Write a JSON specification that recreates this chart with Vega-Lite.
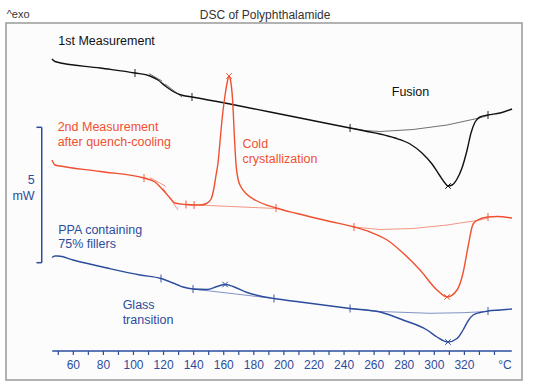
{
  "$schema": "https://vega.github.io/schema/vega-lite/v6.json",
  "width": 516,
  "height": 357,
  "autosize": {"type": "none"},
  "padding": {"left": 6, "top": 23, "right": 12, "bottom": 9},
  "background": "#ffffff",
  "config": {
    "view": {"stroke": "#999999", "strokeWidth": 1.5, "fill": "#fcfcfd"},
    "text": {"font": "Liberation Sans"}
  },
  "datasets": {
    "curves": [
      {"s":"m1","T":45.8,"hf":321},{"s":"m1","T":47.8,"hf":318.5},{"s":"m1","T":77.8,"hf":312},{"s":"m1","T":101.0,"hf":307},{"s":"m1","T":111.0,"hf":304},{"s":"m1","T":116.3,"hf":300},{"s":"m1","T":121.6,"hf":293.5},{"s":"m1","T":127.6,"hf":287.5},{"s":"m1","T":132.9,"hf":284.5},{"s":"m1","T":138.9,"hf":283},{"s":"m1","T":164.2,"hf":276},{"s":"m1","T":190.8,"hf":268},{"s":"m1","T":217.4,"hf":260},{"s":"m1","T":244.0,"hf":252},{"s":"m1","T":253.9,"hf":249},{"s":"m1","T":263.9,"hf":246},{"s":"m1","T":273.9,"hf":242},{"s":"m1","T":283.9,"hf":236},{"s":"m1","T":291.8,"hf":227},{"s":"m1","T":298.5,"hf":216},{"s":"m1","T":303.8,"hf":204},{"s":"m1","T":307.1,"hf":197},{"s":"m1","T":309.1,"hf":194},{"s":"m1","T":311.8,"hf":195},{"s":"m1","T":315.1,"hf":201},{"s":"m1","T":318.4,"hf":212},{"s":"m1","T":321.8,"hf":230},{"s":"m1","T":324.4,"hf":247},{"s":"m1","T":327.1,"hf":258},{"s":"m1","T":330.4,"hf":263},{"s":"m1","T":335.7,"hf":265},{"s":"m1","T":343.7,"hf":267},{"s":"m1","T":351.7,"hf":271},
      {"s":"m2","T":45.8,"hf":220},{"s":"m2","T":47.8,"hf":215},{"s":"m2","T":51.2,"hf":214},{"s":"m2","T":77.8,"hf":208.5},{"s":"m2","T":107.0,"hf":202},{"s":"m2","T":114.3,"hf":198},{"s":"m2","T":119.6,"hf":190},{"s":"m2","T":124.3,"hf":182},{"s":"m2","T":127.6,"hf":177},{"s":"m2","T":134.9,"hf":175.5},{"s":"m2","T":140.3,"hf":175},{"s":"m2","T":144.2,"hf":175},{"s":"m2","T":148.6,"hf":176.5},{"s":"m2","T":151.6,"hf":181},{"s":"m2","T":153.5,"hf":192},{"s":"m2","T":154.9,"hf":205},{"s":"m2","T":156.2,"hf":217},{"s":"m2","T":157.5,"hf":238},{"s":"m2","T":159.2,"hf":265},{"s":"m2","T":160.9,"hf":285},{"s":"m2","T":162.5,"hf":299},{"s":"m2","T":163.5,"hf":304},{"s":"m2","T":164.5,"hf":300},{"s":"m2","T":165.9,"hf":280},{"s":"m2","T":167.2,"hf":240},{"s":"m2","T":168.2,"hf":215},{"s":"m2","T":169.5,"hf":201},{"s":"m2","T":171.5,"hf":193},{"s":"m2","T":174.8,"hf":186.5},{"s":"m2","T":181.5,"hf":179.5},{"s":"m2","T":194.8,"hf":172},{"s":"m2","T":208.7,"hf":166.5},{"s":"m2","T":230.7,"hf":158.5},{"s":"m2","T":246.6,"hf":153},{"s":"m2","T":257.3,"hf":148},{"s":"m2","T":268.6,"hf":140},{"s":"m2","T":279.2,"hf":127},{"s":"m2","T":290.5,"hf":110},{"s":"m2","T":301.8,"hf":90},{"s":"m2","T":308.5,"hf":83},{"s":"m2","T":315.1,"hf":90},{"s":"m2","T":319.1,"hf":107},{"s":"m2","T":322.4,"hf":133},{"s":"m2","T":325.8,"hf":156},{"s":"m2","T":331.1,"hf":161.5},{"s":"m2","T":335.7,"hf":163},{"s":"m2","T":341.7,"hf":163.5},{"s":"m2","T":351.7,"hf":162},
      {"s":"ppa","T":45.8,"hf":122.5},{"s":"ppa","T":47.8,"hf":124},{"s":"ppa","T":49.8,"hf":124},{"s":"ppa","T":59.8,"hf":120},{"s":"ppa","T":82.4,"hf":112},{"s":"ppa","T":104.3,"hf":105},{"s":"ppa","T":118.3,"hf":101.5},{"s":"ppa","T":126.3,"hf":97},{"s":"ppa","T":132.9,"hf":93},{"s":"ppa","T":139.6,"hf":91},{"s":"ppa","T":148.9,"hf":90.5},{"s":"ppa","T":155.5,"hf":93.5},{"s":"ppa","T":160.9,"hf":95.5},{"s":"ppa","T":166.2,"hf":93.5},{"s":"ppa","T":175.5,"hf":87.5},{"s":"ppa","T":184.1,"hf":84},{"s":"ppa","T":193.4,"hf":81.5},{"s":"ppa","T":210.7,"hf":78},{"s":"ppa","T":244.0,"hf":71.5},{"s":"ppa","T":263.9,"hf":68},{"s":"ppa","T":279.2,"hf":60},{"s":"ppa","T":295.2,"hf":50},{"s":"ppa","T":301.8,"hf":43},{"s":"ppa","T":309.1,"hf":38},{"s":"ppa","T":315.1,"hf":41.5},{"s":"ppa","T":319.1,"hf":50},{"s":"ppa","T":322.4,"hf":59},{"s":"ppa","T":325.8,"hf":65},{"s":"ppa","T":330.4,"hf":67.5},{"s":"ppa","T":335.7,"hf":69},{"s":"ppa","T":343.7,"hf":70},{"s":"ppa","T":351.7,"hf":71}
    ],
    "thin": [
      {"s":"m1","k":"b1","T":244.0,"hf":252},{"s":"m1","k":"b1","T":253.9,"hf":249.5},{"s":"m1","k":"b1","T":263.9,"hf":248.5},{"s":"m1","k":"b1","T":285.9,"hf":250.5},{"s":"m1","k":"b1","T":308.5,"hf":255},{"s":"m1","k":"b1","T":328.4,"hf":261.5},{"s":"m1","k":"b1","T":335.7,"hf":264.5},
      {"s":"m1","k":"t1a","T":110.3,"hf":306.5},{"s":"m1","k":"t1a","T":119.0,"hf":299},
      {"s":"m1","k":"t1b","T":121.0,"hf":296},{"s":"m1","k":"t1b","T":132.3,"hf":283},
      {"s":"m2","k":"b2a","T":134.9,"hf":175.5},{"s":"m2","k":"b2a","T":194.8,"hf":171.5},
      {"s":"m2","k":"b2b","T":246.6,"hf":153},{"s":"m2","k":"b2b","T":263.9,"hf":150.5},{"s":"m2","k":"b2b","T":285.9,"hf":151.5},{"s":"m2","k":"b2b","T":308.5,"hf":155},{"s":"m2","k":"b2b","T":330.4,"hf":160},{"s":"m2","k":"b2b","T":335.7,"hf":162},
      {"s":"m2","k":"t2a","T":111.0,"hf":202.5},{"s":"m2","k":"t2a","T":121.6,"hf":193.5},
      {"s":"m2","k":"t2b","T":119.6,"hf":192},{"s":"m2","k":"t2b","T":129.6,"hf":170},
      {"s":"ppa","k":"b3a","T":139.6,"hf":91},{"s":"ppa","k":"b3a","T":193.4,"hf":81.5},
      {"s":"ppa","k":"b3b","T":244.0,"hf":71.5},{"s":"ppa","k":"b3b","T":263.9,"hf":68.5},{"s":"ppa","k":"b3b","T":297.2,"hf":66.7},{"s":"ppa","k":"b3b","T":319.1,"hf":67.3},{"s":"ppa","k":"b3b","T":335.7,"hf":68.5},
      {"s":"ppa","k":"t3a","T":123.0,"hf":99},{"s":"ppa","k":"t3a","T":131.0,"hf":94.5}
    ],
    "limits": [
      {"s":"m1","T":101.0,"hf":307},{"s":"m1","T":138.9,"hf":283},{"s":"m1","T":244.0,"hf":252},{"s":"m1","T":335.7,"hf":265},
      {"s":"m2","T":107.0,"hf":202},{"s":"m2","T":134.9,"hf":175.5},{"s":"m2","T":140.3,"hf":175},{"s":"m2","T":194.8,"hf":172},{"s":"m2","T":246.6,"hf":153},{"s":"m2","T":335.7,"hf":163},
      {"s":"ppa","T":118.3,"hf":101.5},{"s":"ppa","T":139.6,"hf":91},{"s":"ppa","T":193.4,"hf":81.5},{"s":"ppa","T":244.0,"hf":71.5},{"s":"ppa","T":335.7,"hf":69}
    ],
    "peaks": [
      {"s":"m1","T":309.1,"hf":194},
      {"s":"m2","T":163.5,"hf":304},{"s":"m2","T":308.5,"hf":83},
      {"s":"ppa","T":160.9,"hf":95.5},{"s":"ppa","T":309.1,"hf":38}
    ],
    "ticks": [
      {"T":50},{"T":60},{"T":70},{"T":80},{"T":90},{"T":100},{"T":110},{"T":120},{"T":130},{"T":140},{"T":150},{"T":160},{"T":170},{"T":180},{"T":190},{"T":200},{"T":210},{"T":220},{"T":230},{"T":240},{"T":250},{"T":260},{"T":270},{"T":280},{"T":290},{"T":300},{"T":310},{"T":320},{"T":330},{"T":340}
    ],
    "ticklabels": [
      {"T":60,"txt":"60"},{"T":80,"txt":"80"},{"T":100,"txt":"100"},{"T":120,"txt":"120"},{"T":140,"txt":"140"},{"T":160,"txt":"160"},{"T":180,"txt":"180"},{"T":200,"txt":"200"},{"T":220,"txt":"220"},{"T":240,"txt":"240"},{"T":260,"txt":"260"},{"T":280,"txt":"280"},{"T":300,"txt":"300"},{"T":320,"txt":"320"},{"T":347,"txt":"°C"}
    ],
    "notes": [
      {"s":"m1","T":50.0,"hf":339.3,"txt":"1st Measurement"},
      {"s":"m1","T":271.7,"hf":287.7,"txt":"Fusion"},
      {"s":"m2","T":49.6,"hf":253.3,"txt":"2nd Measurement"},
      {"s":"m2","T":49.6,"hf":237.7,"txt":"after quench-cooling"},
      {"s":"m2","T":172.4,"hf":236,"txt":"Cold"},
      {"s":"m2","T":172.4,"hf":220.7,"txt":"crystallization"},
      {"s":"ppa","T":50.0,"hf":150,"txt":"PPA containing"},
      {"s":"ppa","T":50.0,"hf":135.7,"txt":"75% fillers"},
      {"s":"ppa","T":92.8,"hf":75,"txt":"Glass"},
      {"s":"ppa","T":92.8,"hf":60,"txt":"transition"}
    ],
    "scalelabel": [
      {"T":34.3,"hf":200,"txt":"5"},
      {"T":34.3,"hf":184,"txt":"mW"}
    ],
    "scalebar": [
      {"T":39.0,"T2":39.0,"hf":117.3,"hf2":252.7},
      {"T":35.5,"T2":39.0,"hf":252.7,"hf2":252.7},
      {"T":35.5,"T2":39.0,"hf":117.3,"hf2":117.3}
    ]
  },
  "layer": [
    {
      "data": {"name": "thin"},
      "mark": {"type": "line", "strokeWidth": 0.8, "opacity": 0.75},
      "encoding": {
        "x": {"field": "T", "type": "quantitative", "scale": {"domain": [15.25, 358.3], "nice": false, "zero": false}, "axis": null},
        "y": {"field": "hf", "type": "quantitative", "scale": {"domain": [0, 357], "nice": false, "zero": false}, "axis": null},
        "color": {"field": "s", "type": "nominal", "scale": {"domain": ["m1", "m2", "ppa", "t"], "range": ["#111111", "#f0502f", "#2c4c9c", "#333333"]}, "legend": null},
        "detail": {"field": "k"}
      }
    },
    {
      "data": {"name": "curves"},
      "mark": {"type": "line", "strokeWidth": 1.4, "interpolate": "monotone"},
      "encoding": {
        "x": {"field": "T", "type": "quantitative"},
        "y": {"field": "hf", "type": "quantitative"},
        "color": {"field": "s", "type": "nominal", "legend": null}
      }
    },
    {
      "data": {"name": "limits"},
      "mark": {"type": "tick", "orient": "vertical", "size": 8, "thickness": 1.3},
      "encoding": {
        "x": {"field": "T", "type": "quantitative"},
        "y": {"field": "hf", "type": "quantitative"},
        "color": {"field": "s", "type": "nominal", "legend": null}
      }
    },
    {
      "data": {"name": "peaks"},
      "mark": {"type": "point", "shape": "M-1,-1L1,1M-1,1L1,-1", "filled": false, "size": 30, "strokeWidth": 1, "opacity": 1},
      "encoding": {
        "x": {"field": "T", "type": "quantitative"},
        "y": {"field": "hf", "type": "quantitative"},
        "color": {"field": "s", "type": "nominal", "legend": null}
      }
    },
    {
      "data": {"values": [{"T": 46, "T2": 351.5, "hf": 29}]},
      "mark": {"type": "rule", "color": "#2c4c9c", "strokeWidth": 1.5},
      "encoding": {
        "x": {"field": "T", "type": "quantitative"},
        "x2": {"field": "T2"},
        "y": {"field": "hf", "type": "quantitative"}
      }
    },
    {
      "data": {"name": "ticks"},
      "mark": {"type": "rule", "color": "#2c4c9c", "strokeWidth": 1.2},
      "encoding": {
        "x": {"field": "T", "type": "quantitative"},
        "y": {"datum": 29},
        "y2": {"datum": 25}
      }
    },
    {
      "data": {"name": "ticklabels"},
      "mark": {"type": "text", "fontSize": 12, "align": "center", "baseline": "middle", "color": "#2c4c9c"},
      "encoding": {
        "x": {"field": "T", "type": "quantitative"},
        "y": {"datum": 15},
        "text": {"field": "txt"}
      }
    },
    {
      "data": {"name": "notes"},
      "mark": {"type": "text", "fontSize": 12.5, "align": "left", "baseline": "middle"},
      "encoding": {
        "x": {"field": "T", "type": "quantitative"},
        "y": {"field": "hf", "type": "quantitative"},
        "text": {"field": "txt"},
        "color": {"field": "s", "type": "nominal", "legend": null}
      }
    },
    {
      "data": {"name": "scalelabel"},
      "mark": {"type": "text", "fontSize": 12.5, "align": "right", "baseline": "middle", "color": "#2c4c9c"},
      "encoding": {
        "x": {"field": "T", "type": "quantitative"},
        "y": {"field": "hf", "type": "quantitative"},
        "text": {"field": "txt"}
      }
    },
    {
      "data": {"name": "scalebar"},
      "mark": {"type": "rule", "color": "#2c4c9c", "strokeWidth": 1.5},
      "encoding": {
        "x": {"field": "T", "type": "quantitative"},
        "x2": {"field": "T2"},
        "y": {"field": "hf", "type": "quantitative"},
        "y2": {"field": "hf2"}
      }
    },
    {
      "data": {"values": [{"T": 187.5, "hf": 365, "txt": "DSC of Polyphthalamide"}]},
      "mark": {"type": "text", "fontSize": 12, "align": "center", "baseline": "middle", "color": "#333333"},
      "encoding": {
        "x": {"field": "T", "type": "quantitative"},
        "y": {"field": "hf", "type": "quantitative"},
        "text": {"field": "txt"}
      }
    },
    {
      "data": {"values": [{"T": 15.7, "hf": 365, "txt": "^exo"}]},
      "mark": {"type": "text", "fontSize": 11, "align": "left", "baseline": "middle", "color": "#333333"},
      "encoding": {
        "x": {"field": "T", "type": "quantitative"},
        "y": {"field": "hf", "type": "quantitative"},
        "text": {"field": "txt"}
      }
    }
  ]
}
